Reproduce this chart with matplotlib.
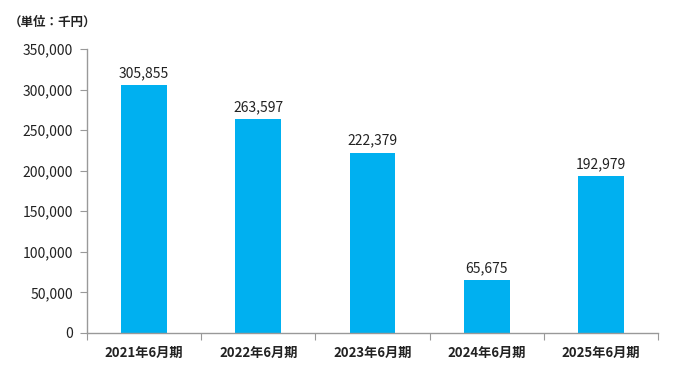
import matplotlib
matplotlib.use("Agg")
import matplotlib.pyplot as plt
import matplotlib.ticker as mticker

# Data
periods = ["2021年6月期", "2022年6月期", "2023年6月期", "2024年6月期", "2025年6月期"]
values = [305855, 263597, 222379, 65675, 192979]
yticks = [0, 50000, 100000, 150000, 200000, 250000, 300000, 350000]

plt.rcParams['font.family'] = ['Noto Sans CJK JP', 'DejaVu Sans']

fig = plt.figure(figsize=(6.78, 3.80), dpi=100)
ax = fig.add_axes([0.1283, 0.1237, 0.8422, 0.7473])

x = list(range(len(periods)))
ax.bar(x, values, width=0.4, color='#00B0F0')

# value labels above bars
for xi, v in zip(x, values):
    ax.text(xi, v + 6000, f"{v:,}", ha='center', va='bottom', fontsize=10, color='#222222')

ax.set_xlim(-0.5, len(periods) - 0.5)
ax.set_ylim(0, 350000)
ax.set_yticks(yticks)
ax.yaxis.set_major_formatter(mticker.StrMethodFormatter('{x:,.0f}'))

# category labels between boundary ticks
ax.set_xticks([i - 0.5 for i in range(len(periods) + 1)])
ax.set_xticklabels([])
ax.set_xticks(x, minor=True)
ax.set_xticklabels(periods, minor=True, fontsize=9.5, fontweight='bold', color='#222222')
ax.tick_params(axis='x', which='minor', length=0, pad=9)
ax.tick_params(axis='x', which='major', direction='out', length=5, color='#999999')
ax.tick_params(axis='y', direction='out', length=5, color='#999999', labelsize=10,
               labelcolor='#222222', pad=5)

for side in ['top', 'right']:
    ax.spines[side].set_visible(False)
for side in ['left', 'bottom']:
    ax.spines[side].set_color('#999999')
    ax.spines[side].set_linewidth(1.0)

fig.text(0.013, 0.942, "（単位：千円）", fontsize=9, fontweight='bold', color='#222222',
         ha='left', va='center')

fig.savefig("out.png", dpi=100)
